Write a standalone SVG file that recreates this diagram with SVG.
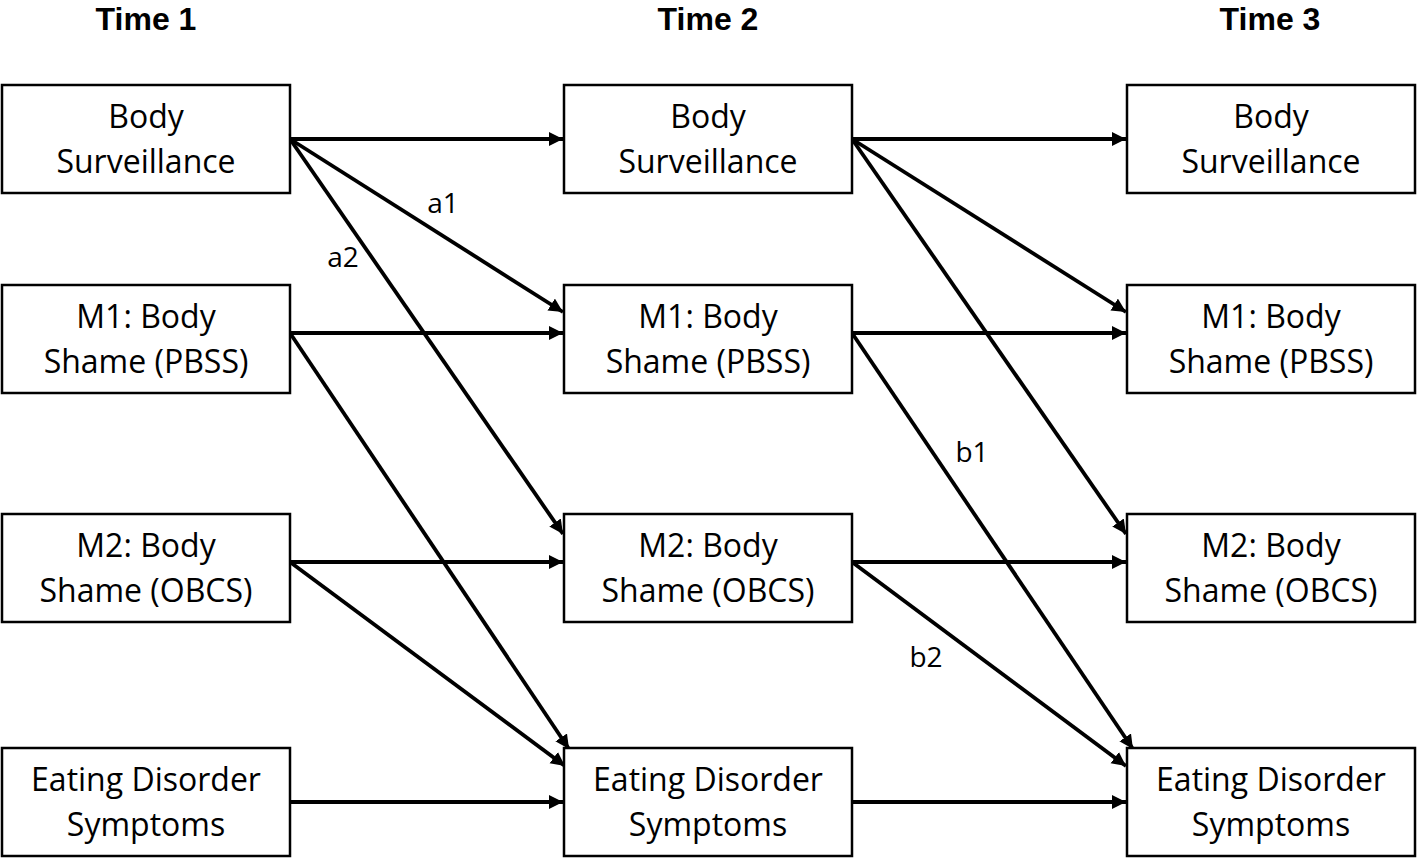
<svg xmlns="http://www.w3.org/2000/svg" width="1418" height="861" viewBox="0 0 1418 861">
<style>
.box{fill:#fff;stroke:#000;stroke-width:2.5}
.t{font-family:"Open Sans","Liberation Sans",sans-serif;font-size:32px;text-anchor:middle;fill:#000}
.h{font-family:"Liberation Sans",Arial,sans-serif;font-size:32px;font-weight:bold;text-anchor:middle;fill:#000}
.l{font-family:"Open Sans","Liberation Sans",sans-serif;font-size:28px;text-anchor:middle;fill:#000}
.c line{stroke:#000;stroke-width:3.8;marker-end:url(#ah)}
</style>
<defs>
<marker id="ah" markerUnits="userSpaceOnUse" markerWidth="16" markerHeight="16" refX="14" refY="7" orient="auto">
<path d="M0,0 L14,7 L0,14 z" fill="#000"/>
</marker>
</defs>
<rect width="1418" height="861" fill="#fff"/>
<g id="titles">
<text class="h" x="146" y="30">Time 1</text>
<text class="h" x="708" y="30">Time 2</text>
<text class="h" x="1270" y="30">Time 3</text>
</g>
<g class="c" id="connectors">
<line x1="290" y1="139" x2="563" y2="139"/>
<line x1="290" y1="139" x2="563" y2="312"/>
<line x1="290" y1="139" x2="563" y2="534"/>
<line x1="290" y1="333" x2="563" y2="333"/>
<line x1="290" y1="333" x2="569" y2="749"/>
<line x1="290" y1="562" x2="563" y2="562"/>
<line x1="290" y1="562" x2="565" y2="766"/>
<line x1="290" y1="802" x2="563" y2="802"/>
<line x1="852" y1="139" x2="1126" y2="139"/>
<line x1="852" y1="139" x2="1126" y2="312"/>
<line x1="852" y1="139" x2="1126" y2="534"/>
<line x1="852" y1="333" x2="1126" y2="333"/>
<line x1="852" y1="333" x2="1133" y2="749"/>
<line x1="852" y1="562" x2="1126" y2="562"/>
<line x1="852" y1="562" x2="1126" y2="766"/>
<line x1="852" y1="802" x2="1126" y2="802"/>
</g>
<g id="labels">
<text class="l" x="443" y="213">a1</text>
<text class="l" x="343" y="267">a2</text>
<text class="l" x="972" y="462">b1</text>
<text class="l" x="926" y="667">b2</text>
</g>
<g id="t1-bs"><rect class="box" x="2" y="85" width="288" height="108"/><text class="t" x="146" y="128">Body</text><text class="t" x="146" y="173">Surveillance</text></g>
<g id="t1-m1"><rect class="box" x="2" y="285" width="288" height="108"/><text class="t" x="146" y="328">M1: Body</text><text class="t" x="146" y="373">Shame (PBSS)</text></g>
<g id="t1-m2"><rect class="box" x="2" y="514" width="288" height="108"/><text class="t" x="146" y="557">M2: Body</text><text class="t" x="146" y="602">Shame (OBCS)</text></g>
<g id="t1-ed"><rect class="box" x="2" y="748" width="288" height="108"/><text class="t" x="146" y="791">Eating Disorder</text><text class="t" x="146" y="836">Symptoms</text></g>
<g id="t2-bs"><rect class="box" x="564" y="85" width="288" height="108"/><text class="t" x="708" y="128">Body</text><text class="t" x="708" y="173">Surveillance</text></g>
<g id="t2-m1"><rect class="box" x="564" y="285" width="288" height="108"/><text class="t" x="708" y="328">M1: Body</text><text class="t" x="708" y="373">Shame (PBSS)</text></g>
<g id="t2-m2"><rect class="box" x="564" y="514" width="288" height="108"/><text class="t" x="708" y="557">M2: Body</text><text class="t" x="708" y="602">Shame (OBCS)</text></g>
<g id="t2-ed"><rect class="box" x="564" y="748" width="288" height="108"/><text class="t" x="708" y="791">Eating Disorder</text><text class="t" x="708" y="836">Symptoms</text></g>
<g id="t3-bs"><rect class="box" x="1127" y="85" width="288" height="108"/><text class="t" x="1271" y="128">Body</text><text class="t" x="1271" y="173">Surveillance</text></g>
<g id="t3-m1"><rect class="box" x="1127" y="285" width="288" height="108"/><text class="t" x="1271" y="328">M1: Body</text><text class="t" x="1271" y="373">Shame (PBSS)</text></g>
<g id="t3-m2"><rect class="box" x="1127" y="514" width="288" height="108"/><text class="t" x="1271" y="557">M2: Body</text><text class="t" x="1271" y="602">Shame (OBCS)</text></g>
<g id="t3-ed"><rect class="box" x="1127" y="748" width="288" height="108"/><text class="t" x="1271" y="791">Eating Disorder</text><text class="t" x="1271" y="836">Symptoms</text></g>
</svg>
